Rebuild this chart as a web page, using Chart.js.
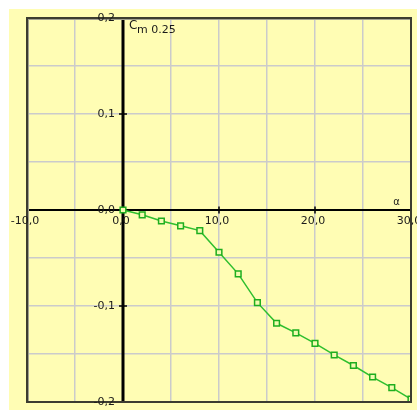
<!DOCTYPE html>
<html>
<head>
<meta charset="utf-8">
<script src="https://cdn.jsdelivr.net/npm/chart.js@4/dist/chart.umd.min.js"></script>
<style>
  html, body { margin: 0; padding: 0; background: #ffffff; }
  canvas { display: block; }
</style>
</head>
<body>
<canvas id="cm" width="417" height="410"></canvas>
<script>
// Pitching moment coefficient Cm(0.25) versus angle of attack alpha (deg)
const alphaDeg = [0, 2, 4, 6, 8, 10, 12, 14, 16, 18, 20, 22, 24, 26, 28, 30];
const cmValues = [0, -0.005, -0.0115, -0.0165, -0.0215, -0.044, -0.0665, -0.0965, -0.118, -0.128, -0.139, -0.151, -0.162, -0.174, -0.185, -0.197];

const xTickValues = [-10, 0, 10, 20, 30];
const xTickLabels = ['-10,0', '0,0', '10,0', '20,0', '30,0'];
const yTickValues = [0.2, 0.1, 0, -0.1, -0.2];
const yTickLabels = ['0,2', '0,1', '0,0', '-0,1', '-0,2'];

const LABEL_FONT = '11px "DejaVu Sans", sans-serif';
const INK = '#1a1a1a';

// Page background, cross-hair axes, frame, tick marks and labels
const decor = {
  id: 'decor',
  beforeDraw(chart) {
    const c = chart.ctx;
    c.save();
    c.fillStyle = '#ffffff';
    c.fillRect(0, 0, chart.width, chart.height);
    c.fillStyle = '#fffdb4';
    c.fillRect(9, 9, chart.width - 9, chart.height - 9);
    c.restore();
  },
  beforeDatasetsDraw(chart) {
    const c = chart.ctx, a = chart.chartArea;
    const xs = chart.scales.x, ys = chart.scales.y;
    const x0 = xs.getPixelForValue(0), y0 = ys.getPixelForValue(0);
    c.save();
    c.strokeStyle = '#000000';
    c.lineWidth = 2;
    c.beginPath(); c.moveTo(a.left, y0); c.lineTo(a.right, y0); c.stroke();
    c.lineWidth = 3;
    c.beginPath(); c.moveTo(x0, a.top); c.lineTo(x0, a.bottom); c.stroke();
    // small tick marks across the axes
    c.lineWidth = 1.5;
    xTickValues.forEach(v => {
      const px = xs.getPixelForValue(v);
      c.beginPath(); c.moveTo(px, y0 - 3.5); c.lineTo(px, y0 + 3.5); c.stroke();
    });
    yTickValues.forEach(v => {
      const py = ys.getPixelForValue(v);
      c.beginPath(); c.moveTo(x0 - 4, py); c.lineTo(x0 + 4, py); c.stroke();
    });
    c.restore();
  },
  afterDraw(chart) {
    const c = chart.ctx, a = chart.chartArea;
    const xs = chart.scales.x, ys = chart.scales.y;
    const x0 = xs.getPixelForValue(0), y0 = ys.getPixelForValue(0);
    c.save();
    // frame
    c.strokeStyle = '#a0a090';
    c.lineWidth = 1;
    c.strokeRect(a.left + 1.5, a.top + 1.5, a.right - a.left - 2, a.bottom - a.top - 2);
    c.strokeStyle = '#3c3c30';
    c.lineWidth = 2;
    c.strokeRect(a.left, a.top, a.right - a.left, a.bottom - a.top);

    c.fillStyle = INK;
    c.font = LABEL_FONT;
    // y labels, left of the vertical axis
    c.textAlign = 'right';
    c.textBaseline = 'middle';
    yTickValues.forEach((v, i) => {
      c.fillText(yTickLabels[i], x0 - 8, ys.getPixelForValue(v));
    });
    // x labels, below the horizontal axis
    c.textAlign = 'center';
    c.textBaseline = 'top';
    xTickValues.forEach((v, i) => {
      c.fillText(xTickLabels[i], xs.getPixelForValue(v) - 2, y0 + 6);
    });
    // axis names
    c.textAlign = 'left';
    c.textBaseline = 'alphabetic';
    c.font = '12px "DejaVu Sans", sans-serif';
    c.fillText('C', x0 + 6, a.top + 11);
    c.font = LABEL_FONT;
    c.fillText('m 0.25', x0 + 14, a.top + 15);
    c.textAlign = 'center';
    c.font = '10px "DejaVu Sans", sans-serif';
    c.fillText('α', xs.getPixelForValue(28.5), y0 - 5);
    c.restore();
  }
};

new Chart(document.getElementById('cm'), {
  type: 'line',
  data: {
    datasets: [{
      data: alphaDeg.map((a, i) => ({ x: a, y: cmValues[i] })),
      borderColor: '#2fbf2f',
      borderWidth: 1.5,
      pointStyle: 'rect',
      pointRadius: 4,
      pointBorderWidth: 1.5,
      pointBorderColor: '#1fae1f',
      pointBackgroundColor: '#f4fbb0',
      tension: 0
    }]
  },
  options: {
    responsive: false,
    devicePixelRatio: 1,
    animation: false,
    layout: { padding: { left: 27, top: 18, right: 6, bottom: 8 } },
    plugins: { legend: { display: false }, tooltip: { enabled: false } },
    scales: {
      x: {
        type: 'linear', min: -10, max: 30,
        ticks: { display: false, stepSize: 5 },
        grid: { color: '#cbcbcb', lineWidth: 1.5, drawTicks: false },
        border: { display: false }
      },
      y: {
        type: 'linear', min: -0.2, max: 0.2,
        ticks: { display: false, stepSize: 0.05 },
        grid: { color: '#cbcbcb', lineWidth: 1.5, drawTicks: false },
        border: { display: false }
      }
    }
  },
  plugins: [decor]
});
</script>
</body>
</html>
